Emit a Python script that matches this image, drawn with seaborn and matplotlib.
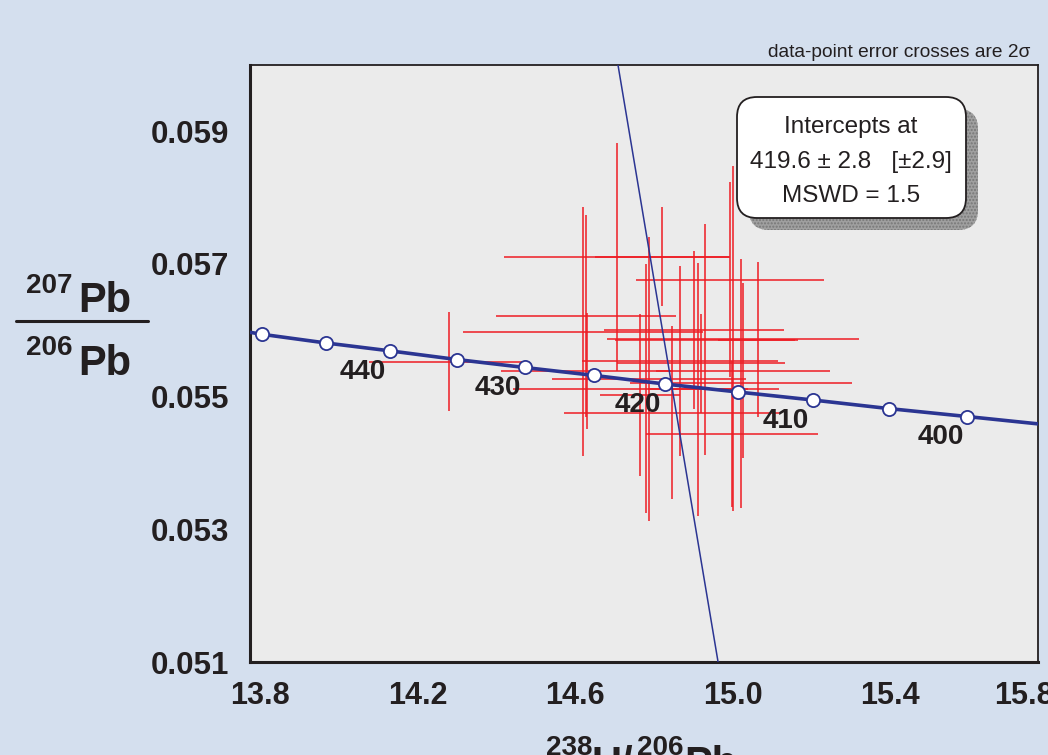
import numpy as np
import matplotlib
matplotlib.use("Agg")
import matplotlib.pyplot as plt
import seaborn as sns
from matplotlib.patches import FancyBboxPatch
from matplotlib.transforms import IdentityTransform, ScaledTranslation
from matplotlib.lines import Line2D

# concordia age marks (Ma) and their positions on the Tera-Wasserburg plot
ages = [450, 445, 440, 435, 430, 425, 420, 415, 410, 405, 400]
conc_x = [13.831, 13.992, 14.156, 14.325, 14.497, 14.674, 14.854, 15.039, 15.228, 15.422, 15.621]
conc_y = [0.05594, 0.05581, 0.05569, 0.05556, 0.05544, 0.05532, 0.05519, 0.05507, 0.05495, 0.05482, 0.05470]
labelled_ages = [440, 430, 420, 410, 400]
# where the curve meets the frame
curve_x = [13.80] + conc_x + [15.80]
curve_y = [0.05597] + conc_y + [0.05459]

# regression (discordia) line end points
disc_x = [14.734, 14.988]
disc_y = [0.0600, 0.0510]

# data points: centre and 2-sigma errors
pt_x = [14.305, 14.731, 14.846, 15.018, 14.645, 14.653, 14.927, 15.026, 14.955, 15.089, 14.891,
        14.945, 14.655, 14.813, 15.046, 15.051, 14.805, 14.790, 14.937, 14.871, 15.023]
pt_y = [0.05553, 0.05711, 0.05711, 0.05676, 0.05598, 0.05622, 0.05601, 0.05587, 0.05586, 0.05586, 0.05554,
        0.05550, 0.05539, 0.05526, 0.05520, 0.05539, 0.05512, 0.05502, 0.05511, 0.05476, 0.05444]
pt_xerr = [0.203, 0.287, 0.170, 0.239, 0.305, 0.228, 0.228, 0.320, 0.228, 0.102, 0.249,
           0.213, 0.218, 0.246, 0.282, 0.221, 0.338, 0.102, 0.127, 0.274, 0.218]
pt_yerr = [0.00075, 0.00172, 0.00075, 0.00147, 0.00188, 0.00152, 0.00119, 0.00260, 0.00174, 0.00117, 0.00143,
           0.00075, 0.00087, 0.00214, 0.00188, 0.00132, 0.00188, 0.00122, 0.00191, 0.00131, 0.00110]

xticks = [13.8, 14.2, 14.6, 15.0, 15.4, 15.8]
xtick_labels = ["13.8", "14.2", "14.6", "15.0", "15.4", "15.8"]
xminor = [14.0, 14.4, 14.8, 15.2, 15.6]
yticks = [0.051, 0.053, 0.055, 0.057, 0.059]
ytick_labels = ["0.051", "0.053", "0.055", "0.057", "0.059"]
yminor = [0.052, 0.054, 0.056, 0.058]

intercept_text = ["Intercepts at", "419.6 \u00b1 2.8   [\u00b12.9]", "MSWD = 1.5"]

sns.set_theme(style="white")
plt.rcParams['font.family'] = ['Liberation Sans', 'DejaVu Sans']

ink = '#231f20'
red = '#ee1c24'
navy = '#2b3592'

fig = plt.figure(figsize=(10.48, 7.55), dpi=100, facecolor='#d4dfee')
ax = fig.add_axes([250 / 1048, 1 - 662 / 755, 788 / 1048, 597 / 755])
ax.set_facecolor('#ebebeb')

ax.errorbar(pt_x, pt_y, xerr=pt_xerr, yerr=pt_yerr, fmt='none', ecolor=red,
            elinewidth=1.1, capsize=0, zorder=2)
ax.plot(disc_x, disc_y, color=navy, lw=1.1, zorder=3)
sns.lineplot(x=curve_x, y=curve_y, sort=False, color=navy, lw=2.6, ax=ax, zorder=4)
sns.scatterplot(x=conc_x, y=conc_y, s=90, color='white', edgecolor=navy, linewidth=1.3,
                zorder=5, ax=ax)

for age, x, y in zip(ages, conc_x, conc_y):
    if age in labelled_ages:
        ax.annotate(str(age), (x, y), xytext=(-19.5, -15), textcoords='offset points',
                    ha='center', va='center', fontsize=20, fontweight='bold', color=ink)

ax.set_xlim(13.8, 15.8)
ax.set_ylim(0.051, 0.060)
ax.set_xticks(xticks)
ax.set_xticklabels(xtick_labels)
ax.set_xticks(xminor, minor=True)
ax.set_yticks(yticks)
ax.set_yticklabels(ytick_labels)
ax.set_yticks(yminor, minor=True)
ax.tick_params(which='both', direction='in', length=6, width=1.3, color=ink)
ax.tick_params(axis='x', which='major', pad=14, labelsize=22, labelcolor=ink)
ax.tick_params(axis='y', which='major', pad=15, labelsize=22.5, labelcolor=ink)
for lab in ax.get_xticklabels() + ax.get_yticklabels():
    lab.set_fontweight('bold')
xlabs = ax.get_xticklabels()
for lab in xlabs[:-1]:
    lab.set_transform(lab.get_transform() + ScaledTranslation(0.10, 0, fig.dpi_scale_trans))
# last label sits a little further left, partly off the edge
xlabs[-1].set_transform(xlabs[-1].get_transform() + ScaledTranslation(-0.135, 0, fig.dpi_scale_trans))

for side in ['left', 'bottom']:
    ax.spines[side].set_linewidth(2.2)
    ax.spines[side].set_color(ink)
for side in ['top', 'right']:
    ax.spines[side].set_linewidth(1.3)
    ax.spines[side].set_color(ink)
ax.set_xlabel('')
ax.set_ylabel('')

# y-axis label as a stacked fraction
W, H = 1048, 755
def fx(px):
    return px / W
def fy(py):
    return 1 - py / H

fig.text(fx(26), fy(293), '207', fontsize=20, fontweight='bold', color=ink, ha='left', va='baseline')
fig.text(fx(78), fy(312), 'Pb', fontsize=30, fontweight='bold', color=ink, ha='left', va='baseline')
fig.add_artist(Line2D([fx(16), fx(148)], [fy(321), fy(321)], color=ink, lw=2.2))
fig.text(fx(26), fy(355), '206', fontsize=20, fontweight='bold', color=ink, ha='left', va='baseline')
fig.text(fx(78), fy(375), 'Pb', fontsize=30, fontweight='bold', color=ink, ha='left', va='baseline')

# x-axis label, cut off by the bottom edge as in the source figure
fig.text(fx(546), fy(755), '238', fontsize=20, fontweight='bold', color=ink, ha='left', va='baseline')
fig.text(fx(592), fy(776), 'U/', fontsize=30, fontweight='bold', color=ink, ha='left', va='baseline')
fig.text(fx(637), fy(755), '206', fontsize=20, fontweight='bold', color=ink, ha='left', va='baseline')
fig.text(fx(684), fy(776), 'Pb', fontsize=30, fontweight='bold', color=ink, ha='left', va='baseline')

fig.text(fx(1030), fy(57), 'data-point error crosses are 2\u03c3', fontsize=13.8,
         color=ink, ha='right', va='baseline')

# intercept box with shadow (pixel coordinates)
bx, by, bw, bh = 737, H - 218, 229, 121
shadow = FancyBboxPatch((bx + 12, by - 12), bw, bh, boxstyle="round,pad=0,rounding_size=20",
                        transform=IdentityTransform(), facecolor='#a0a0a0', edgecolor='#777777',
                        hatch='.....', lw=0, zorder=6)
box = FancyBboxPatch((bx, by), bw, bh, boxstyle="round,pad=0,rounding_size=20",
                     transform=IdentityTransform(), facecolor='white', edgecolor=ink,
                     lw=1.3, zorder=7)
fig.add_artist(shadow)
fig.add_artist(box)
for txt, py in zip(intercept_text, [127, 162, 196]):
    fig.text(fx(851), fy(py), txt, fontsize=17.5, color=ink, ha='center', va='center', zorder=8)

fig.savefig('out.png', dpi=100, facecolor=fig.get_facecolor())
